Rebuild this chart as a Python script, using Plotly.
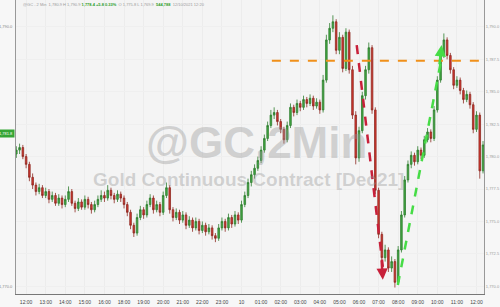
import plotly.graph_objects as go
import pandas as pd

# ---- data (10-minute bars) ----
opens = [1780.2, 1780.5, 1780.7, 1780.0, 1779.4, 1778.4, 1777.8, 1777.3, 1777.6, 1777.0,
         1777.3, 1776.7, 1777.0, 1776.4, 1776.8, 1776.3, 1776.7, 1777.3, 1776.4, 1776.0,
         1776.5, 1776.1, 1776.7, 1776.3, 1775.9, 1776.3, 1776.7, 1777.0, 1776.8, 1777.4,
         1777.0, 1776.7, 1777.1, 1776.8, 1776.3, 1775.7, 1774.7, 1774.1, 1775.3, 1775.9,
         1775.5, 1776.3, 1776.8, 1775.9, 1776.3, 1775.7, 1777.0, 1777.6, 1775.9, 1775.3,
         1775.7, 1775.1, 1775.5, 1774.7, 1775.1, 1774.5, 1775.0, 1774.3, 1774.7, 1774.2,
         1774.5, 1773.9, 1773.7, 1774.5, 1775.0, 1774.5, 1775.3, 1774.8, 1775.5, 1775.1,
         1776.3, 1777.0, 1778.0, 1778.6, 1779.1, 1779.7, 1780.5, 1781.4, 1782.4, 1783.2,
         1783.4, 1782.7, 1782.1, 1781.3, 1782.4, 1783.8, 1783.4, 1784.1, 1783.8, 1784.4,
         1784.1, 1784.5, 1783.9, 1784.2, 1783.6, 1785.9, 1789.0, 1789.9, 1790.4, 1788.2,
         1789.2, 1786.8, 1789.6, 1786.7, 1783.2, 1779.9, 1782.0, 1784.7, 1786.7, 1788.4,
         1783.6, 1777.4, 1774.0, 1772.2, 1772.8, 1771.4, 1771.9, 1770.3, 1772.8, 1775.5,
         1778.2, 1779.4, 1780.1, 1779.6, 1780.5, 1780.1, 1781.3, 1781.9, 1781.4, 1783.6,
         1785.9, 1787.8, 1789.0, 1787.8, 1786.7, 1785.5, 1785.9, 1785.1, 1784.4, 1784.8,
         1784.0, 1782.1, 1783.2, 1778.9]
highs = [1780.8, 1781.0, 1780.9, 1780.2, 1779.6, 1778.7, 1778.0, 1777.9, 1777.8, 1777.6,
         1777.5, 1777.3, 1777.2, 1777.1, 1777.0, 1777.0, 1777.7, 1777.5, 1776.6, 1776.8,
         1776.7, 1777.0, 1776.9, 1776.5, 1776.6, 1777.0, 1777.4, 1777.3, 1777.8, 1777.6,
         1777.2, 1777.4, 1777.3, 1777.0, 1776.5, 1775.9, 1774.9, 1775.6, 1776.2, 1776.1,
         1776.6, 1777.1, 1777.0, 1776.6, 1776.5, 1777.3, 1778.0, 1777.8, 1776.1, 1776.0,
         1775.9, 1775.8, 1775.7, 1775.4, 1775.3, 1775.3, 1775.2, 1775.0, 1774.9, 1774.8,
         1774.7, 1774.1, 1774.8, 1775.3, 1775.2, 1775.6, 1775.5, 1775.8, 1775.7, 1776.6,
         1777.3, 1778.3, 1778.9, 1779.4, 1780.0, 1780.8, 1781.7, 1782.7, 1783.6, 1783.8,
         1783.6, 1782.9, 1782.3, 1782.7, 1784.1, 1784.0, 1784.4, 1784.3, 1784.7, 1784.6,
         1784.8, 1784.7, 1784.5, 1784.4, 1786.3, 1789.4, 1790.3, 1790.9, 1790.6, 1789.6,
         1789.4, 1789.9, 1789.8, 1787.0, 1783.5, 1782.3, 1785.0, 1787.0, 1788.8, 1788.6,
         1783.8, 1777.6, 1774.2, 1773.2, 1773.0, 1772.3, 1772.1, 1773.1, 1775.8, 1778.5,
         1779.7, 1780.4, 1780.3, 1780.8, 1780.7, 1781.6, 1782.2, 1782.1, 1783.9, 1786.2,
         1788.1, 1789.5, 1789.2, 1788.0, 1786.9, 1786.2, 1786.1, 1785.3, 1785.1, 1785.0,
         1784.2, 1783.5, 1783.4, 1781.2]
lows = [1779.9, 1780.2, 1779.8, 1779.1, 1778.1, 1777.5, 1777.0, 1777.1, 1776.8, 1776.8,
        1776.4, 1776.5, 1776.2, 1776.2, 1776.0, 1776.1, 1776.5, 1776.2, 1775.7, 1775.8,
        1775.9, 1775.9, 1776.0, 1775.6, 1775.7, 1776.1, 1776.5, 1776.5, 1776.6, 1776.7,
        1776.4, 1776.5, 1776.5, 1776.0, 1775.4, 1774.4, 1773.8, 1773.9, 1775.1, 1775.2,
        1775.3, 1776.1, 1775.6, 1775.7, 1775.4, 1775.5, 1776.8, 1775.6, 1775.0, 1775.1,
        1774.8, 1774.9, 1774.4, 1774.5, 1774.2, 1774.3, 1774.0, 1774.1, 1773.9, 1774.0,
        1773.6, 1773.4, 1773.5, 1774.3, 1774.2, 1774.3, 1774.5, 1774.6, 1774.8, 1774.9,
        1776.1, 1776.8, 1777.7, 1778.3, 1778.9, 1779.5, 1780.3, 1781.2, 1782.2, 1782.9,
        1782.4, 1781.8, 1781.0, 1781.1, 1782.2, 1783.1, 1783.2, 1783.5, 1783.6, 1783.8,
        1783.9, 1783.6, 1783.7, 1783.3, 1783.4, 1785.7, 1788.7, 1789.6, 1787.9, 1787.9,
        1786.5, 1786.6, 1786.4, 1782.9, 1779.4, 1779.6, 1781.8, 1784.4, 1786.4, 1783.3,
        1777.1, 1773.7, 1771.9, 1771.9, 1771.1, 1771.1, 1769.9, 1770.1, 1772.6, 1775.3,
        1778.0, 1779.1, 1779.3, 1779.4, 1779.8, 1779.9, 1781.1, 1781.1, 1781.2, 1783.4,
        1785.7, 1787.6, 1787.5, 1786.4, 1785.2, 1785.3, 1784.8, 1784.1, 1784.2, 1783.7,
        1781.8, 1781.9, 1778.3, 1778.7]
closes = [1780.5, 1780.7, 1780.0, 1779.4, 1778.4, 1777.8, 1777.3, 1777.6, 1777.0, 1777.3,
          1776.7, 1777.0, 1776.4, 1776.8, 1776.3, 1776.7, 1777.3, 1776.4, 1776.0, 1776.5,
          1776.1, 1776.7, 1776.3, 1775.9, 1776.3, 1776.7, 1777.0, 1776.8, 1777.4, 1777.0,
          1776.7, 1777.1, 1776.8, 1776.3, 1775.7, 1774.7, 1774.1, 1775.3, 1775.9, 1775.5,
          1776.3, 1776.8, 1775.9, 1776.3, 1775.7, 1777.0, 1777.6, 1775.9, 1775.3, 1775.7,
          1775.1, 1775.5, 1774.7, 1775.1, 1774.5, 1775.0, 1774.3, 1774.7, 1774.2, 1774.5,
          1773.9, 1773.7, 1774.5, 1775.0, 1774.5, 1775.3, 1774.8, 1775.5, 1775.1, 1776.3,
          1777.0, 1778.0, 1778.6, 1779.1, 1779.7, 1780.5, 1781.4, 1782.4, 1783.2, 1783.4,
          1782.7, 1782.1, 1781.3, 1782.4, 1783.8, 1783.4, 1784.1, 1783.8, 1784.4, 1784.1,
          1784.5, 1783.9, 1784.2, 1783.6, 1785.9, 1789.0, 1789.9, 1790.4, 1788.2, 1789.2,
          1786.8, 1789.6, 1786.7, 1783.2, 1779.9, 1782.0, 1784.7, 1786.7, 1788.4, 1783.6,
          1777.4, 1774.0, 1772.2, 1772.8, 1771.4, 1771.9, 1770.3, 1772.8, 1775.5, 1778.2,
          1779.4, 1780.1, 1779.6, 1780.5, 1780.1, 1781.3, 1781.9, 1781.4, 1783.6, 1785.9,
          1787.8, 1789.0, 1787.8, 1786.7, 1785.5, 1785.9, 1785.1, 1784.4, 1784.8, 1784.0,
          1782.1, 1783.2, 1778.9, 1780.9]

tick_times = ["2021-12-09 12:00", "2021-12-09 13:00", "2021-12-09 14:00", "2021-12-09 15:00",
              "2021-12-09 16:00", "2021-12-09 18:00", "2021-12-09 19:00", "2021-12-09 20:00",
              "2021-12-09 21:00", "2021-12-09 22:00", "2021-12-09 23:00", "2021-12-10 00:00",
              "2021-12-10 01:00", "2021-12-10 02:00", "2021-12-10 03:00", "2021-12-10 04:00",
              "2021-12-10 05:00", "2021-12-10 06:00", "2021-12-10 07:00", "2021-12-10 08:00",
              "2021-12-10 09:00", "2021-12-10 10:00", "2021-12-10 11:00", "2021-12-10 12:00"]
tick_labels = ["12:00", "13:00", "14:00", "15:00", "16:00", "18:00", "19:00", "20:00",
               "21:00", "22:00", "23:00", "10", "01:00", "02:00", "03:00", "04:00",
               "05:00", "06:00", "07:00", "08:00", "09:00", "10:00", "11:00", "12:00"]
price_ticks = [1770.0, 1772.5, 1775.0, 1777.5, 1780.0, 1782.5, 1785.0, 1787.5, 1790.0]

resistance = 1787.4
red_arrow = [("2021-12-10 05:53", 1788.6), ("2021-12-10 07:13", 1770.5)]
green_arrow = [("2021-12-10 07:59", 1770.1), ("2021-12-10 10:13", 1788.6)]

times = list(pd.date_range("2021-12-09 11:30", "2021-12-09 16:50", freq="10min")) + \
        list(pd.date_range("2021-12-09 18:00", "2021-12-10 12:20", freq="10min"))

FONT = "Liberation Sans, Arial, sans-serif"

fig = go.Figure(go.Candlestick(
    x=times, open=opens, high=highs, low=lows, close=closes,
    increasing=dict(line=dict(color="#2f7d2f", width=0.8), fillcolor="#43a843"),
    decreasing=dict(line=dict(color="#8e2a22", width=0.8), fillcolor="#d4362e"),
    whiskerwidth=0, hoverinfo="skip", showlegend=False,
))

shapes = [
    dict(type="line", xref="x", yref="y", x0="2021-12-10 01:33", x1="2021-12-10 12:23",
         y0=resistance, y1=resistance, line=dict(color="#f0901a", width=2, dash="dash")),
    dict(type="line", xref="x", yref="y", x0=red_arrow[0][0], y0=red_arrow[0][1],
         x1=red_arrow[1][0], y1=red_arrow[1][1] + 1.0,
         line=dict(color="#c8203a", width=2.5, dash="dash")),
    dict(type="line", xref="x", yref="y", x0=green_arrow[0][0], y0=green_arrow[0][1],
         x1=green_arrow[1][0], y1=green_arrow[1][1] - 1.0,
         line=dict(color="#46dc46", width=2.5, dash="dash")),
]

annotations = [
    dict(xref="paper", yref="paper", x=0.513, y=0.514, text="<b>@GC,2Min</b>", showarrow=False,
         font=dict(family=FONT, size=44, color="rgba(150,150,150,0.38)")),
    dict(xref="paper", yref="paper", x=0.497, y=0.388, text="<b>Gold Continuous Contract [Dec21]</b>",
         showarrow=False, font=dict(family=FONT, size=19, color="rgba(150,150,150,0.38)")),
    # arrow heads
    dict(xref="x", yref="y", axref="x", ayref="y", x=red_arrow[1][0], y=red_arrow[1][1],
         ax="2021-12-10 07:09", ay=red_arrow[1][1] + 1.6, text="", showarrow=True,
         arrowhead=2, arrowsize=0.9, arrowwidth=2.5, arrowcolor="#c8203a"),
    dict(xref="x", yref="y", axref="x", ayref="y", x=green_arrow[1][0], y=green_arrow[1][1],
         ax="2021-12-10 10:06", ay=green_arrow[1][1] - 1.6, text="", showarrow=True,
         arrowhead=2, arrowsize=0.9, arrowwidth=2.5, arrowcolor="#46dc46"),
    # header line
    dict(xref="paper", yref="paper", x=0.01, y=1.0, xanchor="left", yanchor="top", showarrow=False,
         text="@GC - 2 Min &nbsp;1,780.9 H 1,790.9 <span style='color:#2a9d2a'><b>1,778.4 +5.8 0.33%</b></span>"
              " &nbsp;O 1,775.8 L 1,769.9 &nbsp;<span style='color:#2a9d2a'><b>544,788</b></span> &nbsp;12/10/2021 12:20",
         font=dict(family=FONT, size=4, color="#9a9a9a")),
    # left labels
    dict(xref="paper", yref="y", x=0, y=1790.0, xanchor="right", showarrow=False, xshift=-1,
         text="1,790.0", font=dict(family=FONT, size=4, color="#888888")),
    dict(xref="paper", yref="y", x=0, y=1770.0, xanchor="right", showarrow=False, xshift=-1,
         text="1,770.0", font=dict(family=FONT, size=4, color="#888888")),
    dict(xref="paper", yref="y", x=0, y=1781.8, xanchor="right", showarrow=False, xshift=-1,
         text="1,781.8", bgcolor="#35a535", borderpad=1,
         font=dict(family=FONT, size=4, color="#ffffff")),
]

fig.update_layout(
    width=500, height=307,
    margin=dict(l=16, r=16, t=0, b=13),
    paper_bgcolor="#f7f7f7", plot_bgcolor="#f4f4f4",
    shapes=shapes, annotations=annotations,
    xaxis=dict(
        type="date", rangeslider=dict(visible=False),
        range=["2021-12-09 11:29", "2021-12-10 12:23"],
        rangebreaks=[dict(bounds=[17, 18], pattern="hour")],
        tickvals=tick_times, ticktext=tick_labels,
        tickfont=dict(family=FONT, size=5, color="#444444"),
        showgrid=True, gridcolor="#ececec", gridwidth=1,
        showline=True, linecolor="#777777", linewidth=1,
        ticks="outside", ticklen=3, tickcolor="rgba(0,0,0,0)",
        zeroline=False,
    ),
    yaxis=dict(
        side="right", range=[1769.4, 1792.08],
        tickvals=price_ticks, tickformat=",.1f",
        tickfont=dict(family=FONT, size=4, color="#9a9a9a"),
        showgrid=True, gridcolor="#efefef",
        showline=True, linecolor="#999999", linewidth=1, mirror=True,
        zeroline=False,
    ),
)

fig.write_html("out.html")
